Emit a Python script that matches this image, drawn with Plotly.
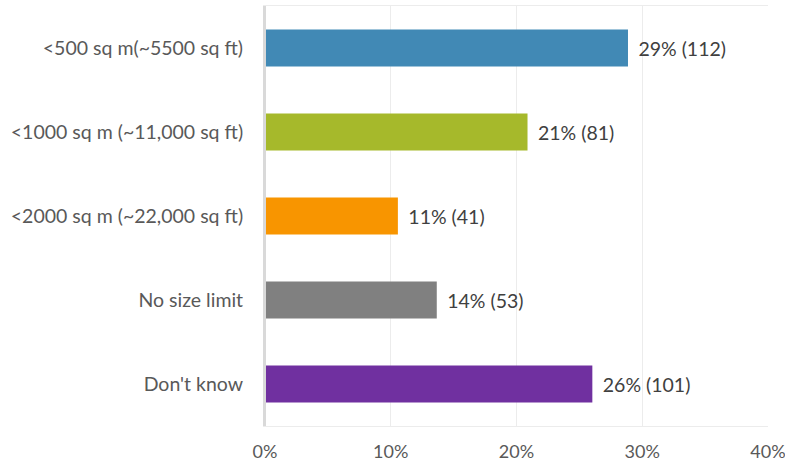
import plotly.graph_objects as go

categories = ["<500 sq m(~5500 sq ft)", "<1000 sq m (~11,000 sq ft)",
              "<2000 sq m (~22,000 sq ft)", "No size limit", "Don't know"]
counts = [112, 81, 41, 53, 101]
pct_labels = ["29%", "21%", "11%", "14%", "26%"]
colors = ["#4189b5", "#a6b92b", "#f89500", "#808080", "#7030a0"]
total = sum(counts)
shares = [c / total for c in counts]
labels = [f"\u00a0\u2009{p} ({c})" for p, c in zip(pct_labels, counts)]

fig = go.Figure(go.Bar(
    x=shares, y=categories, orientation="h",
    marker=dict(color=colors, line=dict(width=0)),
    text=labels, textposition="outside", cliponaxis=False,
    textfont=dict(size=19.5, color="#404040"),
    hoverinfo="skip",
))

fig.update_layout(
    width=785, height=461,
    margin=dict(l=265, r=17, t=6, b=35, autoexpand=False),
    paper_bgcolor="white", plot_bgcolor="white",
    font=dict(family="Lato, 'Open Sans', sans-serif", color="#595959"),
    bargap=0.56,
    showlegend=False,
)
fig.update_xaxes(
    range=[0, 0.4], dtick=0.1, tickformat=".0%", automargin=False,
    showgrid=True, gridcolor="#ececec", gridwidth=1,
    zeroline=False, showline=True, linecolor="#ececec", mirror=True,
    ticks="", tickfont=dict(size=18, color="#595959"), ticklabelstandoff=9,
    ticklabeloverflow="allow",
)
fig.update_yaxes(
    autorange="reversed", showgrid=False, zeroline=False, automargin=False,
    showline=True, linecolor="#d9d9d9", linewidth=2,
    ticks="", ticklabelstandoff=16,
    tickfont=dict(size=19.5, color="#595959"),
)
fig.add_shape(type="line", xref="x", yref="paper", x0=0, x1=0, y0=0, y1=1,
              line=dict(color="#d9d9d9", width=2))
fig.write_html("out.html", config={"displayModeBar": False},
               post_script="document.body.style.margin='0';document.body.style.overflow='hidden';")
